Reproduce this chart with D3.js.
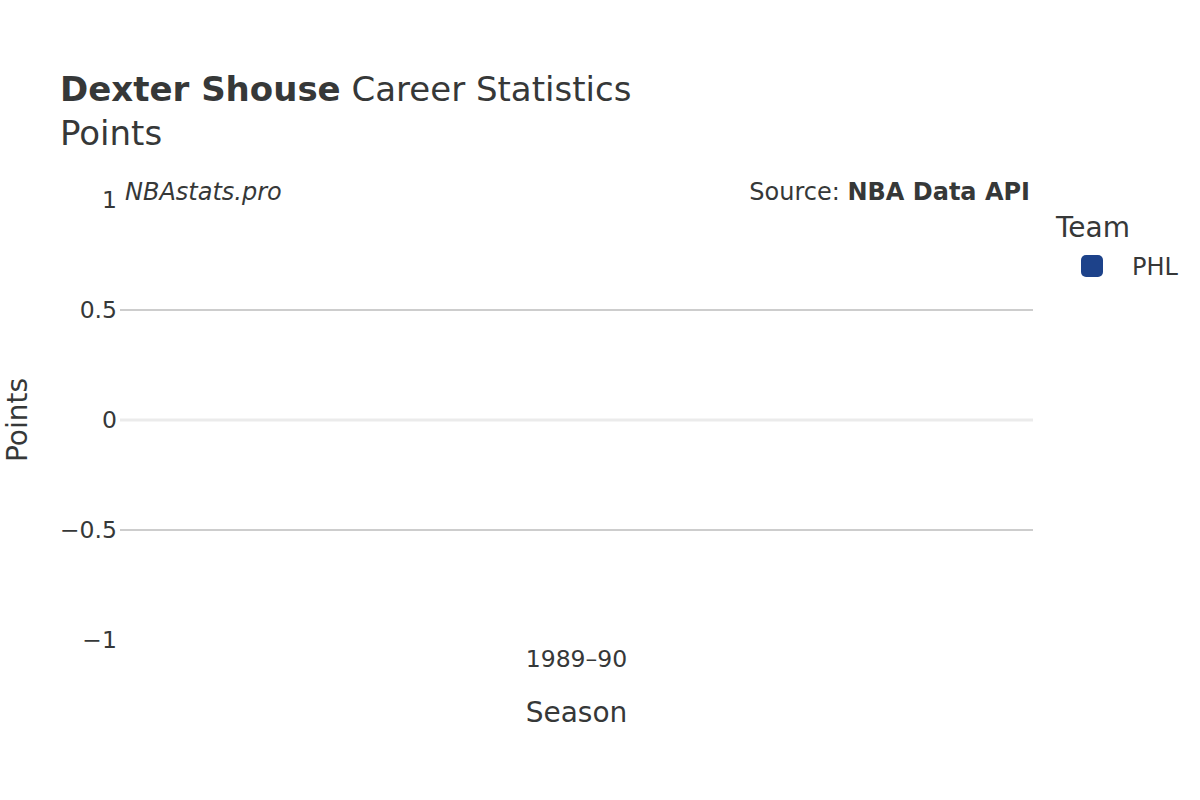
<!DOCTYPE html>
<html>
<head>
<meta charset="utf-8">
<script src="https://cdn.jsdelivr.net/npm/d3@7"></script>
<style>
  body { margin: 0; background: #fff; }
  svg text { font-family: "DejaVu Sans", sans-serif; fill: #363838; }
</style>
</head>
<body>
<svg id="chart" width="1200" height="800"></svg>
<script>
/* ---------- data ---------- */
const seasons = ["1989\u201390"];
const teams = ["PHL"];
const teamColors = ["#1d428a"];
const points = [0];
const yTicks = [-1, -0.5, 0, 0.5, 1];

/* ---------- layout ---------- */
const svg = d3.select("#chart");
const margin = { top: 200, right: 167, bottom: 160, left: 120 };
const W = 1200, H = 800;
const innerW = W - margin.left - margin.right;
const innerH = H - margin.top - margin.bottom;

const g = svg.append("g").attr("transform", `translate(${margin.left},${margin.top})`);

const x = d3.scaleBand().domain(seasons).range([0, innerW]).paddingInner(0.2).paddingOuter(0.1);
const y = d3.scaleLinear().domain([-1, 1]).range([innerH, 0]);

// gridlines (not at the edges)
g.selectAll(".grid").data(yTicks.filter(t => t !== 0 && Math.abs(t) !== 1)).enter()
  .append("line")
  .attr("x1", 0).attr("x2", innerW)
  .attr("y1", d => y(d)).attr("y2", d => y(d))
  .attr("stroke", "#bdbdbd").attr("stroke-width", 1.5);

// zero line
g.append("line")
  .attr("x1", 0).attr("x2", innerW)
  .attr("y1", y(0)).attr("y2", y(0))
  .attr("stroke", "#ebebeb").attr("stroke-width", 3);

// bars (zero height here)
const barW = innerW * 0.8;
g.selectAll(".bar").data(points).enter()
  .append("rect")
  .attr("x", (d, i) => x(seasons[i]) + x.bandwidth() / 2 - barW / 2)
  .attr("width", barW)
  .attr("y", d => Math.min(y(d), y(0)))
  .attr("height", d => Math.abs(y(d) - y(0)))
  .attr("fill", teamColors[0])
  .attr("stroke", "#f4f4f4").attr("stroke-width", 1.5);

// y tick labels
const yAxis = d3.axisLeft(y).tickValues(yTicks).tickSize(0).tickPadding(3)
  .tickFormat(d => d3.format("")(d).replace("-", "\u2212"));
g.append("g").call(yAxis)
  .call(a => a.select(".domain").remove())
  .selectAll("text").style("font-size", "23.5px").attr("fill", "#363838");

// x tick labels
const xAxis = d3.axisBottom(x).tickSize(0).tickPadding(10);
g.append("g").attr("transform", `translate(0,${innerH})`).call(xAxis)
  .call(a => a.select(".domain").remove())
  .selectAll("text").style("font-size", "23.5px").attr("fill", "#363838");

/* ---------- titles ---------- */
const title = svg.append("text").attr("x", 60).attr("y", 101).style("font-size", "34px");
title.append("tspan").style("font-weight", "bold").text("Dexter Shouse");
title.append("tspan").text(" Career Statistics");
svg.append("text").attr("x", 60).attr("y", 145).style("font-size", "34px").text("Points");

svg.append("text").attr("x", 125).attr("y", 200)
  .style("font-size", "24px").style("font-style", "italic").text("NBAstats.pro");

const src = svg.append("text").attr("x", 1030).attr("y", 200)
  .attr("text-anchor", "end").style("font-size", "24px");
src.append("tspan").text("Source: ");
src.append("tspan").style("font-weight", "bold").text("NBA Data API");

svg.append("text")
  .attr("x", margin.left + innerW / 2).attr("y", 722)
  .attr("text-anchor", "middle").style("font-size", "28px").text("Season");

svg.append("text")
  .attr("transform", `translate(27,${margin.top + innerH / 2}) rotate(-90)`)
  .attr("text-anchor", "middle").style("font-size", "28px").text("Points");

/* ---------- legend ---------- */
const legend = svg.append("g").attr("transform", "translate(1056,0)");
legend.append("text").attr("x", 0).attr("y", 237).style("font-size", "28px").text("Team");
const items = legend.selectAll(".item").data(teams).enter().append("g")
  .attr("transform", (d, i) => `translate(0,${266 + i * 38})`);
items.append("rect")
  .attr("x", 25).attr("y", -11).attr("width", 22).attr("height", 22)
  .attr("rx", 5).attr("fill", (d, i) => teamColors[i]);
items.append("text").attr("x", 76).attr("y", 9).style("font-size", "24px").text(d => d);
</script>
</body>
</html>
